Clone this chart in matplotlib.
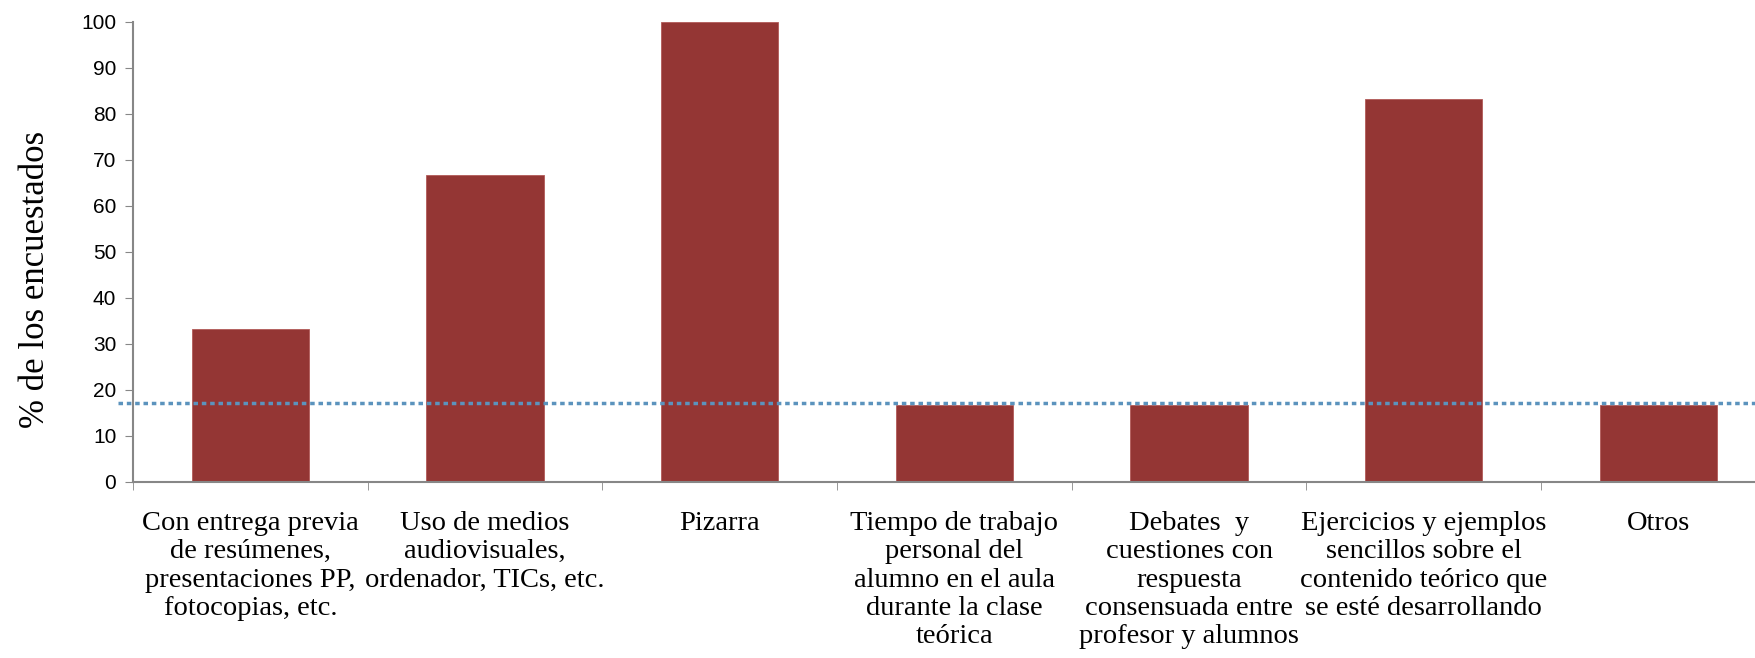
import numpy as np
import matplotlib.pyplot as plt
from matplotlib.ticker import FixedLocator

categories = [
    "Con entrega previa\nde resúmenes,\npresentaciones PP,\nfotocopias, etc.",
    "Uso de medios\naudiovisuales,\nordenador, TICs, etc.",
    "Pizarra",
    "Tiempo de trabajo\npersonal del\nalumno en el aula\ndurante la clase\nteórica",
    "Debates  y\ncuestiones con\nrespuesta\nconsensuada entre\nprofesor y alumnos",
    "Ejercicios y ejemplos\nsencillos sobre el\ncontenido teórico que\nse esté desarrollando",
    "Otros",
]
values = [33.3, 66.7, 100.0, 16.7, 16.7, 83.3, 16.7]
reference_level = 17.2

bar_color = "#943634"
line_color = "#5b93bd"
axis_color = "#878787"

fig = plt.figure(figsize=(17.56, 6.58), dpi=100)
ax = fig.add_axes([0.0757, 0.2675, 0.9356, 0.6991])

x = np.arange(len(categories))
ax.bar(x, values, width=0.5, color=bar_color, edgecolor="#b25a58", linewidth=0.6, zorder=2)

ax.axhline(reference_level, xmin=-0.009, xmax=1.0, color=line_color,
           linewidth=2.5, dashes=(1.3, 1.1), clip_on=False, zorder=3)

ax.set_xlim(-0.5, len(categories) - 0.5)
ax.set_ylim(0, 100)
ax.set_yticks(range(0, 101, 10))
ax.set_yticklabels([str(v) for v in range(0, 101, 10)],
                   fontfamily="Liberation Sans", fontsize=15)

ax.set_xticks(x)
ax.set_xticklabels(categories, fontfamily="Liberation Serif", fontsize=20.5,
                   linespacing=1.17)
ax.xaxis.set_minor_locator(FixedLocator(np.arange(-0.5, len(categories), 1.0)))
ax.tick_params(axis="x", which="major", length=0, pad=21)
ax.tick_params(axis="x", which="minor", length=6, direction="out", color=axis_color)
ax.tick_params(axis="y", length=6, direction="out", color=axis_color, pad=6)

ax.set_ylabel("% de los encuestados", fontfamily="Liberation Serif", fontsize=25)
ax.yaxis.set_label_coords(-0.0495, 0.44)

for side in ["top", "right"]:
    ax.spines[side].set_visible(False)
for side in ["left", "bottom"]:
    ax.spines[side].set_color(axis_color)
    ax.spines[side].set_linewidth(1.5)

fig.savefig("out.png", dpi=100)
